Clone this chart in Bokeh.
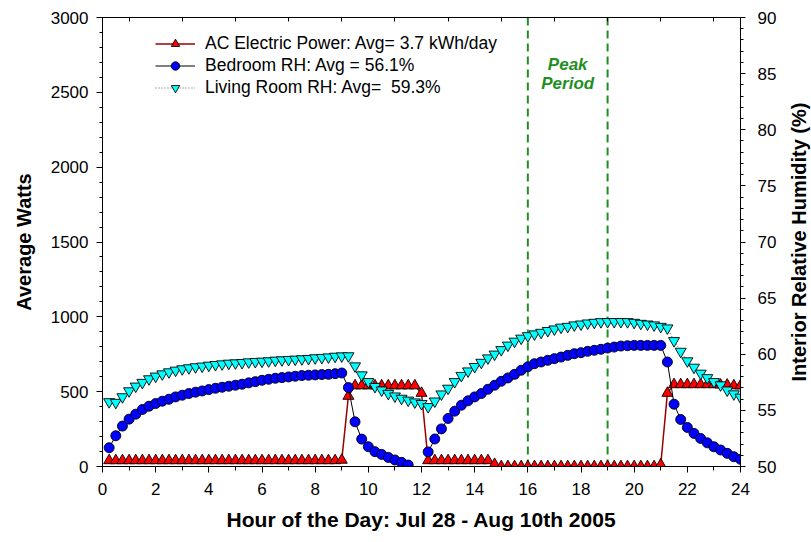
import math
from bokeh.plotting import figure
from bokeh.models import (Range1d, LinearAxis, SingleIntervalTicker, FixedTicker,
                          Span, Label, Legend, LegendItem)
from bokeh.embed import file_html
from bokeh.resources import INLINE

# ---------------- data ----------------
hours = [round(0.25 * i, 2) for i in range(1, 97)]  # 15-minute intervals, 0.25 .. 24.0

ac_watts = [
    40, 40, 40, 40, 40, 40, 40, 40,
    40, 40, 40, 40, 40, 40, 40, 40,
    40, 40, 40, 40, 40, 40, 40, 40,
    40, 40, 40, 40, 40, 40, 40, 40,
    40, 40, 40, 43,
    470, 540, 540, 540, 540, 540, 540, 540, 540, 540, 540, 490,
    40, 40, 40, 40, 40, 40, 40, 40, 40, 40, 15, 0,
    0, 0, 0, 0, 0, 0, 0, 0,
    0, 0, 0, 0, 0, 0, 0, 0,
    0, 0, 0, 0, 0, 0, 0, 12,
    490, 548, 548, 548, 548, 548, 548, 548, 545, 545, 540, 540,
]

nan = float("nan")
bedroom_rh = [
    51.67, 52.74, 53.60, 54.22, 54.66, 55.08, 55.37, 55.61, 55.82, 55.99, 56.20, 56.35,
    56.50, 56.62, 56.73, 56.85, 56.97, 57.06, 57.15, 57.24, 57.33, 57.45, 57.56, 57.68,
    57.77, 57.86, 57.92, 57.98, 58.04, 58.10, 58.13, 58.16, 58.19, 58.21, 58.27, 58.33,
    57.03, 53.98, 52.44, 51.76, 51.32, 51.08, 50.81, 50.58, 50.37, 50.13, nan, nan,
    51.30, 52.45, 53.35, 54.28, 54.93, 55.46, 55.85, 56.20, 56.50, 56.88, 57.24, 57.59,
    57.89, 58.21, 58.57, 58.88, 59.16, 59.31, 59.46, 59.61, 59.75, 59.90, 60.05, 60.14,
    60.26, 60.35, 60.44, 60.55, 60.64, 60.73, 60.76, 60.79, 60.79, 60.79, 60.79, 60.79,
    59.31, 55.55, 54.19, 53.48, 52.95, 52.50, 52.11, 51.76, 51.47, 51.17, 50.87, 50.64,
]

living_rh = [
    55.76, 55.70, 56.20, 56.73, 57.15, 57.48, 57.80, 58.04, 58.24, 58.42, 58.57, 58.69,
    58.78, 58.87, 58.93, 59.01, 59.07, 59.13, 59.19, 59.22, 59.25, 59.31, 59.34, 59.37,
    59.40, 59.46, 59.49, 59.52, 59.55, 59.58, 59.61, 59.67, 59.70, 59.75, 59.81, 59.84,
    59.85, 58.95, 58.15, 57.55, 57.12, 56.80, 56.50, 56.27, 56.07, 55.90, 55.74, 55.60,
    55.32, 55.82, 56.45, 56.96, 57.55, 58.10, 58.50, 58.90, 59.27, 59.66, 60.00, 60.40,
    60.80, 61.15, 61.42, 61.64, 61.80, 61.94, 62.10, 62.24, 62.40, 62.47, 62.60, 62.68,
    62.77, 62.83, 62.89, 62.90, 62.90, 62.90, 62.89, 62.83, 62.74, 62.68, 62.60, 62.47,
    62.33, 61.20, 60.25, 59.40, 58.83, 58.30, 57.90, 57.55, 57.26, 56.80, 56.46, 56.16,
]

legend_labels = [
    "AC Electric Power: Avg= 3.7 kWh/day",
    "Bedroom RH: Avg = 56.1%",
    "Living Room RH: Avg=  59.3%",
]
x_title = "Hour of the Day: Jul 28 - Aug 10th 2005"
left_title = "Average Watts"
right_title = "Interior Relative Humidity (%)"
peak_start, peak_end = 16, 19
peak_text = ["Peak", "Period"]
top_ticks = [1, 3, 5, 7, 9, 11, 13, 15, 17, 19, 21, 23]

FONT = "Liberation Sans"
GREEN = "#1f8f1f"
W, H = 811, 542
B_LEFT, B_RIGHT, B_TOP, B_BOTTOM = 102, 71, 17, 76

# ---------------- figure ----------------
p = figure(width=W, height=H, output_backend="svg", toolbar_location=None,
           x_range=Range1d(0, 24), y_range=Range1d(0, 3000),
           min_border_left=B_LEFT, min_border_right=B_RIGHT, min_border_top=B_TOP,
           min_border_bottom=B_BOTTOM)
p.extra_y_ranges = {"rh": Range1d(50, 90)}
p.xgrid.visible = False
p.ygrid.visible = False
p.outline_line_color = "black"
p.outline_line_width = 1
p.background_fill_color = "white"
p.border_fill_color = "white"


def style_axis(ax, label_size="17px"):
    ax.axis_line_color = "black"
    ax.axis_line_width = 1
    ax.major_tick_line_color = "black"
    ax.minor_tick_line_color = "black"
    ax.major_tick_in = 0
    ax.minor_tick_in = 0
    ax.major_label_text_font = FONT
    ax.major_label_text_font_size = label_size
    ax.major_label_text_color = "black"
    ax.axis_label_text_font = FONT
    ax.axis_label_text_font_style = "bold"
    ax.axis_label_text_font_size = "20px"
    ax.axis_label_text_color = "black"


xax = p.xaxis[0]
xax.ticker = SingleIntervalTicker(interval=2, num_minor_ticks=2)
style_axis(xax)
xax.axis_label = x_title
xax.axis_label_text_font_size = "21px"
xax.major_tick_out = 6
xax.minor_tick_out = 4
xax.major_label_standoff = 10
xax.axis_label_standoff = 10

yax = p.yaxis[0]
yax.ticker = SingleIntervalTicker(interval=500, num_minor_ticks=5)
style_axis(yax)
yax.axis_label = left_title
yax.major_tick_out = 6
yax.minor_tick_out = 3
yax.major_label_standoff = 8
yax.axis_label_standoff = 13

rax = LinearAxis(y_range_name="rh",
                 ticker=SingleIntervalTicker(interval=5, num_minor_ticks=5))
style_axis(rax)
rax.major_tick_out = 5
rax.minor_tick_out = 3
rax.major_label_standoff = 12
p.add_layout(rax, "right")

# right-hand title, reading bottom-to-top, in its own side panel
frame_h = H - B_TOP - B_BOTTOM
p.add_layout(Label(x=19, y=frame_h / 2, x_units="screen", y_units="screen",
                   text=right_title, angle=90, angle_units="deg",
                   text_align="center", text_baseline="middle", text_font=FONT,
                   text_font_style="bold", text_font_size="20px", text_color="black"),
             "right")

tax = LinearAxis(ticker=FixedTicker(ticks=top_ticks))
tax.axis_line_color = "black"
tax.major_tick_line_color = "black"
tax.major_tick_in = 4
tax.major_tick_out = 0
tax.minor_tick_in = 0
tax.minor_tick_out = 0
tax.major_label_text_font_size = "0px"
tax.major_label_text_alpha = 0
tax.major_label_standoff = 0
p.add_layout(tax, "above")

# peak period markers
for loc in (peak_start, peak_end):
    p.add_layout(Span(location=loc, dimension="height", line_color=GREEN,
                      line_width=2, line_dash="8 5", level="underlay"))
peak_mid = (peak_start + peak_end) / 2
for txt, yv in zip(peak_text, (2683, 2557)):
    p.add_layout(Label(x=peak_mid, y=yv, text=txt, text_align="center",
                       text_baseline="middle", text_font=FONT,
                       text_font_style="bold italic", text_font_size="17px",
                       text_color=GREEN))

# series
ac_line = p.line(hours, ac_watts, line_color="#990000", line_width=1.5)
ac_pts = p.scatter(hours, ac_watts, marker="triangle", size=11,
                   fill_color="#ff0000", line_color="black", line_width=0.9)

bd_line = p.line(hours, bedroom_rh, y_range_name="rh", line_color="black",
                 line_width=1)
bd_pts = p.scatter(hours, bedroom_rh, y_range_name="rh", marker="circle", size=10,
                   fill_color="#0000ff", line_color="black", line_width=0.9)

lv_line = p.line(hours, living_rh, y_range_name="rh", line_color="#555555",
                 line_width=1, line_dash="1 2")
lv_pts = p.scatter(hours, living_rh, y_range_name="rh", marker="inverted_triangle",
                   size=11, fill_color="#00ffff", line_color="black", line_width=0.9)

legend = Legend(items=[
    LegendItem(label=legend_labels[0], renderers=[ac_line, ac_pts]),
    LegendItem(label=legend_labels[1], renderers=[bd_line, bd_pts]),
    LegendItem(label=legend_labels[2], renderers=[lv_line, lv_pts]),
], location=(53, 368))
legend.label_text_font = FONT
legend.label_text_font_size = "17.5px"
legend.label_text_color = "black"
legend.glyph_width = 40
legend.glyph_height = 21
legend.label_height = 21
legend.spacing = 1
legend.padding = 0
legend.margin = 0
legend.label_standoff = 10
legend.background_fill_alpha = 0
legend.border_line_alpha = 0
p.add_layout(legend)

open("out.html", "w").write(file_html(p, INLINE))
